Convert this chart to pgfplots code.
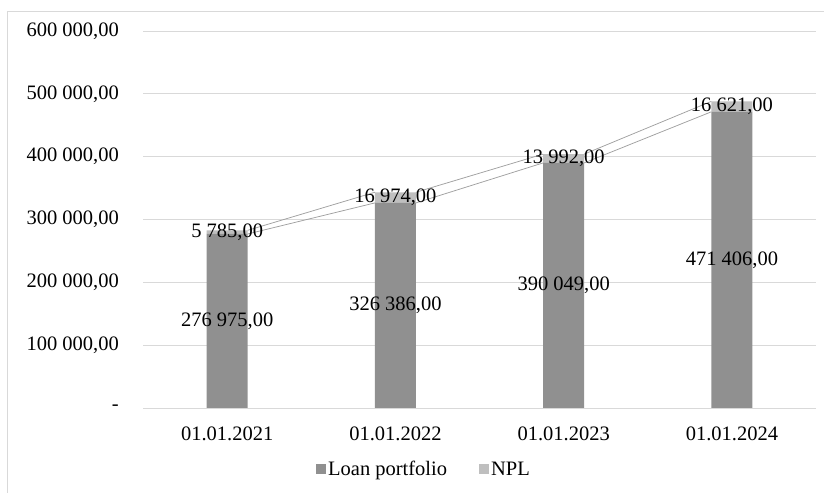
\documentclass[border=0pt]{standalone}
\usepackage{pgfplots}
\pgfplotsset{compat=1.18}
\usepackage{fontspec}
\setmainfont{Liberation Serif}
\definecolor{loan}{HTML}{909090}
\definecolor{npl}{HTML}{BFBFBF}
\definecolor{gridc}{HTML}{D9D9D9}
\definecolor{serline}{HTML}{A0A0A0}
\newcommand{\lblfont}{\fontsize{20.5bp}{24bp}\selectfont}
\pgfplotsset{
  base/.style={
    at={(143bp,85bp)}, anchor=south west,
    scale only axis, width=673bp, height=377bp,
    xmin=-0.5, xmax=3.5, ymin=0, ymax=600000,
    scaled y ticks=false,
  },
}
\begin{document}
\begin{tikzpicture}
\useasboundingbox (0,0) rectangle (824bp,493bp);
\draw[gridc, line width=0.75bp] (7.5bp,0) -- (7.5bp,482bp) -- (824bp,482bp);

\begin{axis}[
  base,
  ybar stacked,
  bar width=41bp,
  axis line style={draw=none},
  major tick length=0pt,
  ymajorgrids=true,
  grid style={gridc, line width=0.75bp},
  ytick={0,100000,200000,300000,400000,500000,600000},
  yticklabels={{-\hspace{0.55em}},{100 000,00},{200 000,00},{300 000,00},{400 000,00},{500 000,00},{600 000,00}},
  yticklabel style={anchor=east, inner sep=0pt, xshift=-24bp, font=\lblfont},
  xtick={0,1,2,3},
  xticklabels={01.01.2021,01.01.2022,01.01.2023,01.01.2024},
  xticklabel style={anchor=north, inner sep=0pt, yshift=-19bp, font=\lblfont},
  legend columns=2,
  legend style={at={(0.4175,-0.162)}, anchor=center, draw=none, font=\lblfont,
    /tikz/every even column/.append style={column sep=30bp}},
  legend image code/.code={\fill[#1] (0bp,-5bp) rectangle (10bp,5bp);},
]
\addplot[fill=loan, draw=none] coordinates {(0,276975) (1,326386) (2,390049) (3,471406)};
\addplot[fill=npl, draw=none] coordinates {(0,5785) (1,16974) (2,13992) (3,16621)};
\legend{Loan portfolio, NPL}
\end{axis}

\begin{axis}[base, hide axis, unbounded coords=jump]
\addplot[serline, line width=0.75bp, mark=none] coordinates {
  (0.122,276975) (0.878,326386) (1,nan)
  (1.122,326386) (1.878,390049) (2,nan)
  (2.122,390049) (2.878,471406)};
\addplot[serline, line width=0.75bp, mark=none] coordinates {
  (0.122,282760) (0.878,343360) (1,nan)
  (1.122,343360) (1.878,404041) (2,nan)
  (2.122,404041) (2.878,488027)};

\node[font=\lblfont] at (axis cs:0,138487.5) {276 975,00};
\node[font=\lblfont] at (axis cs:1,163193) {326 386,00};
\node[font=\lblfont] at (axis cs:2,195024.5) {390 049,00};
\node[font=\lblfont] at (axis cs:3,235703) {471 406,00};
\node[font=\lblfont] at (axis cs:0,279867.5) {5 785,00};
\node[font=\lblfont] at (axis cs:1,334873) {16 974,00};
\node[font=\lblfont] at (axis cs:2,397045) {13 992,00};
\node[font=\lblfont] at (axis cs:3,479716.5) {16 621,00};
\end{axis}
\end{tikzpicture}
\end{document}
